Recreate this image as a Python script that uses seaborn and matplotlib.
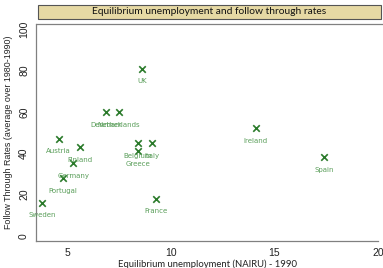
import matplotlib
matplotlib.use("Agg")
import matplotlib.pyplot as plt
import seaborn as sns
import pandas as pd
from matplotlib.lines import Line2D
from matplotlib.patches import Rectangle

countries = ["Sweden", "Portugal", "Germany", "Austria", "Finland", "Belgium", "Italy",
             "Greece", "France", "Spain", "Ireland", "UK", "Denmark", "Netherlands"]
nairu = [3.8, 4.8, 5.3, 4.6, 5.6, 8.4, 9.1, 8.4, 9.3, 17.4, 14.1, 8.6, 6.9, 7.5]
follow = [16, 28, 35, 47, 43, 45, 45, 41, 18, 38, 52, 81, 60, 60]
xticks = [5, 10, 15, 20]
yticks = [0, 20, 40, 60, 80, 100]

df = pd.DataFrame({"country": countries, "nairu": nairu, "follow": follow})

sns.set_style("white")
plt.rcParams['font.family'] = ['Liberation Sans', 'DejaVu Sans']

fig = plt.figure(figsize=(3.83, 2.68), dpi=100)
W, H = 383, 268
ax = fig.add_axes([36 / W, 1 - 241 / H, (378 - 36) / W, (241 - 24) / H])

sns.scatterplot(data=df, x="nairu", y="follow", marker="x", color="#2a7a2a",
                s=22, linewidth=1.2, ax=ax, legend=False)
for c, xv, yv in zip(countries, nairu, follow):
    ax.annotate(c, (xv, yv), xytext=(0, -7), textcoords="offset points",
                ha="center", va="top", fontsize=5.0, color="#5a9e5a",
                family=['DejaVu Sans'])

ax.set_xlim(3.5, 20.0)
ax.set_ylim(-2.6, 102.6)
ax.set_xticks(xticks)
ax.set_yticks(yticks)
ax.tick_params(axis="both", labelsize=7.5, length=3, width=0.6,
               direction="out", pad=2, colors="#999999", labelcolor="#222222")
for lab in ax.get_yticklabels():
    lab.set_rotation(90)
    lab.set_va("center")
for side in ["left", "bottom"]:
    ax.spines[side].set_color("#808080")
    ax.spines[side].set_linewidth(0.9)
ax.spines["right"].set_visible(False)
ax.spines["top"].set_visible(False)

fig.add_artist(Line2D([36 / W, 1.0], [1 - 24 / H, 1 - 24 / H], color="#808080",
                      linewidth=0.9, transform=fig.transFigure))

ax.set_xlabel("Equilibrium unemployment (NAIRU) - 1990", fontsize=6.8, color="#222222",
              family=['Lato', 'DejaVu Sans'], labelpad=1)
ax.set_ylabel("Follow Through Rates (average over 1980-1990)", fontsize=6.4,
              color="#222222", labelpad=4)

fig.add_artist(Rectangle((38 / W, 1 - 19 / H), (381 - 38) / W, 14 / H,
                         facecolor="#e6d9a4", edgecolor="#555555", linewidth=0.8,
                         transform=fig.transFigure))
fig.text((38 + 381) / 2 / W, 1 - 12 / H, "Equilibrium unemployment and follow through rates",
         ha="center", va="center", fontsize=7.4, color="#111111",
         family=['Lato', 'DejaVu Sans'])

fig.savefig("out.png", dpi=100)
